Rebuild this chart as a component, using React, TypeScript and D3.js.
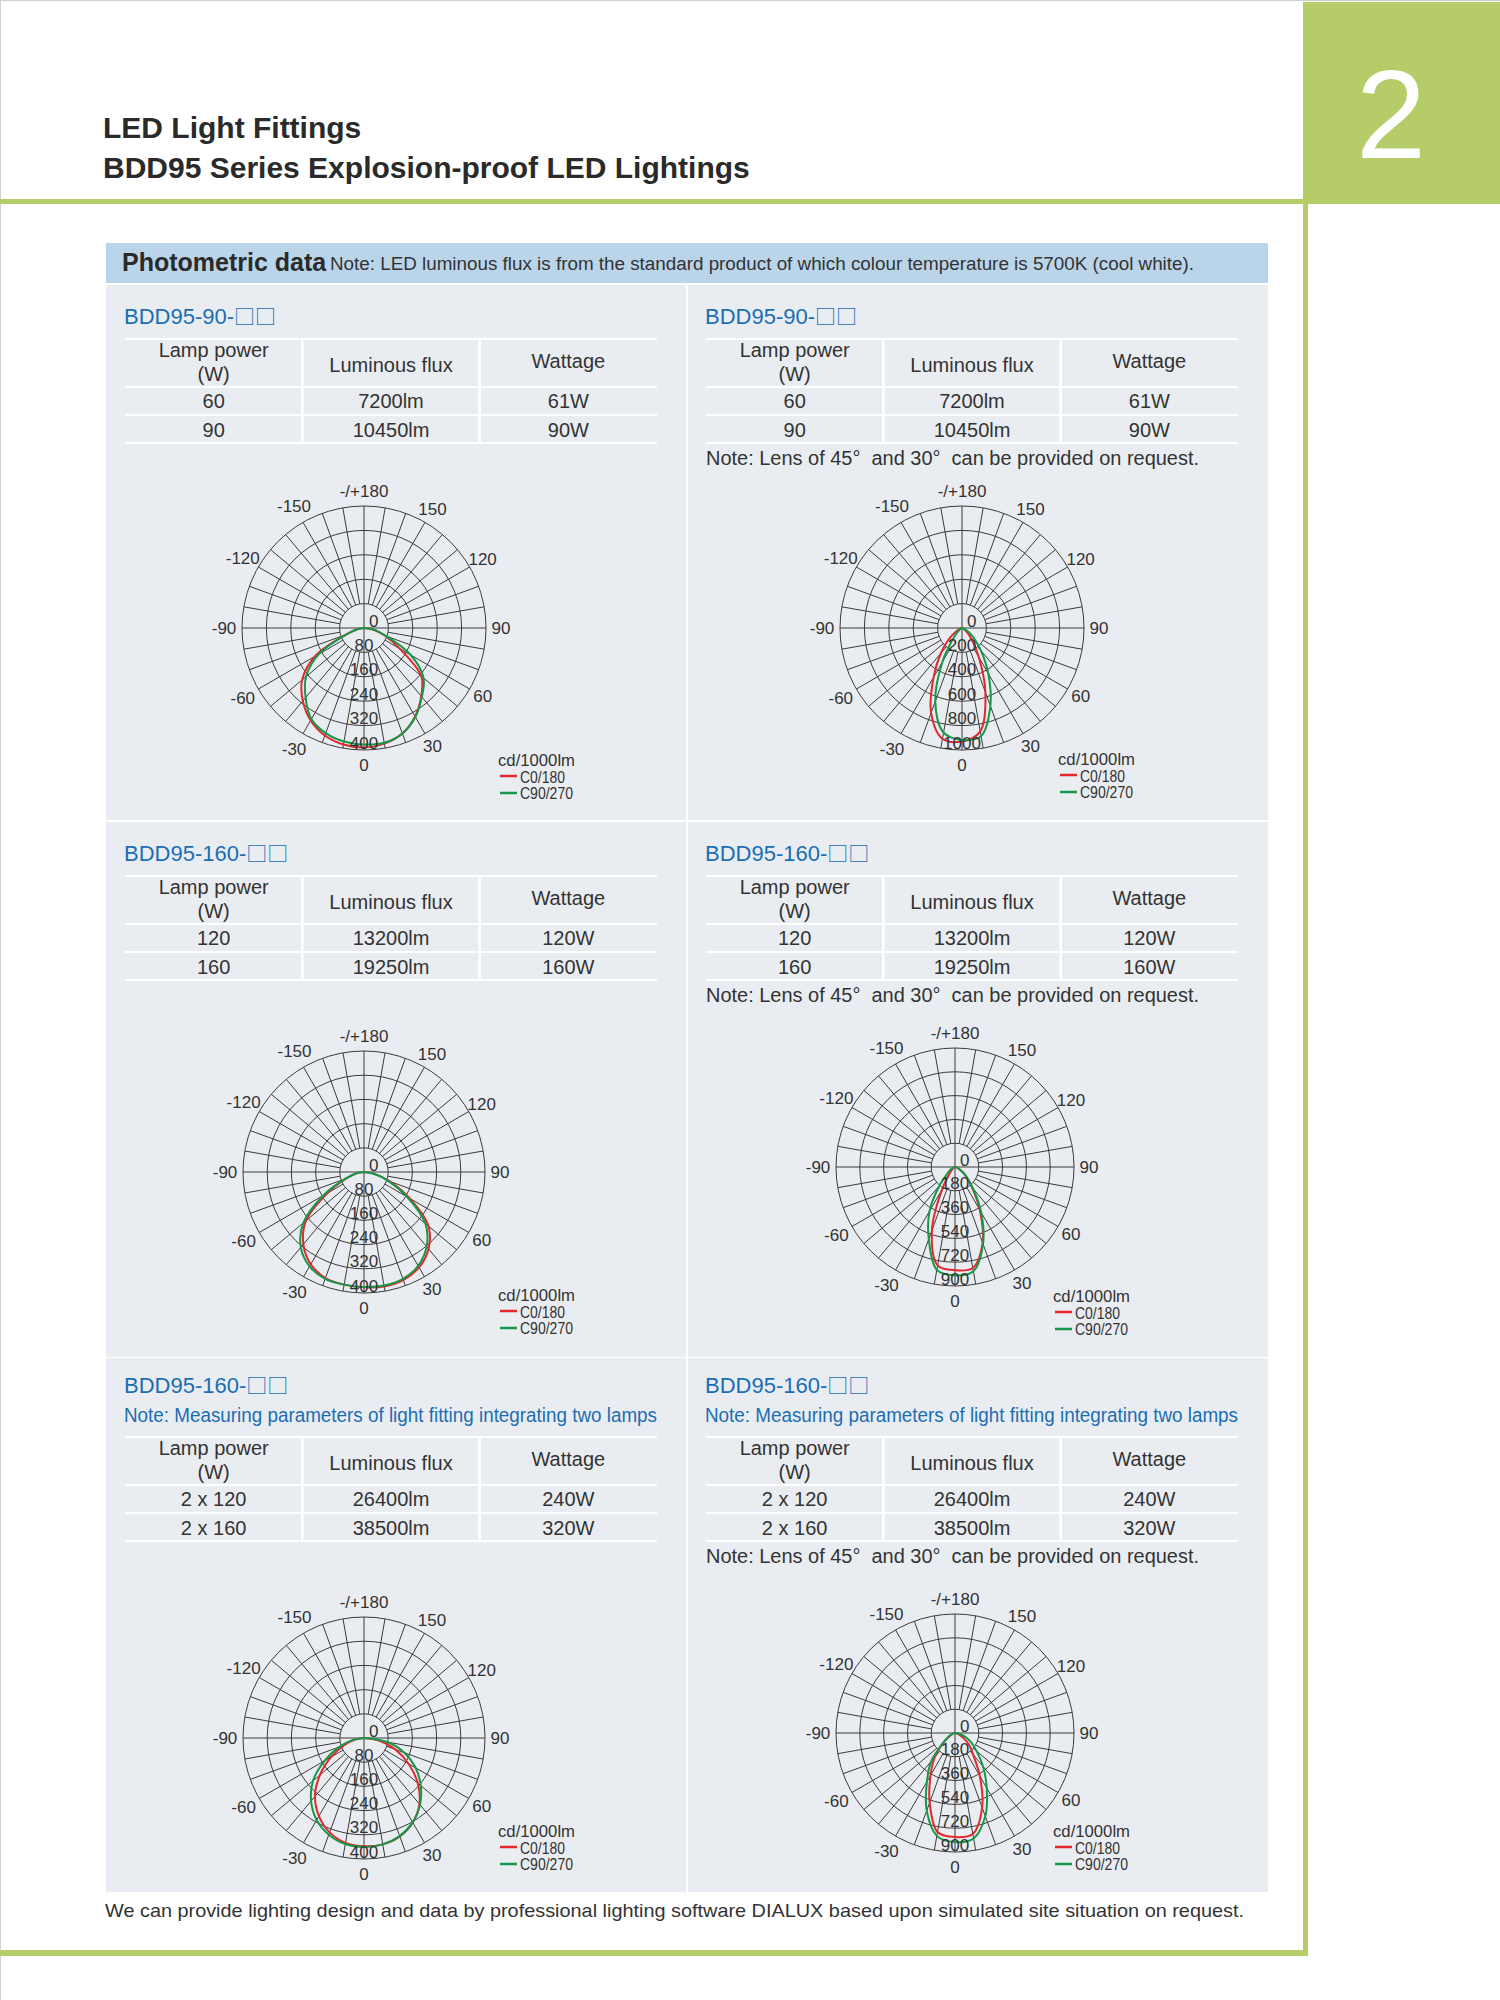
import * as React from 'react';
import * as d3 from 'd3';

// ---- data ----
const angles = [-90, -80, -70, -60, -50, -40, -30, -20, -10, 0, 10, 20, 30, 40, 50, 60, 70, 80, 90];

// BDD95-90 (wide)
const c0Wide90 = [0, 20, 62, 185, 265, 312, 350, 375, 388, 392, 385, 368, 335, 292, 245, 135, 72, 32, 0];
const c90Wide90 = [0, 20, 60, 170, 248, 298, 345, 367, 378, 382, 382, 368, 337, 295, 255, 177, 78, 35, 0];
// BDD95-90 (narrow)
const c0Narrow90 = [0, 0, 15, 50, 140, 270, 465, 740, 922, 930, 860, 560, 275, 125, 55, 20, 5, 0, 0];
const c90Narrow90 = [0, 0, 5, 15, 40, 110, 320, 640, 870, 918, 900, 680, 430, 240, 125, 60, 20, 5, 0];
// BDD95-160 (wide)
const c0Wide160 = [0, 25, 62, 140, 250, 312, 352, 373, 378, 381, 384, 380, 364, 332, 278, 175, 90, 35, 0];
const c90Wide160 = [0, 25, 65, 155, 262, 325, 360, 376, 378, 380, 381, 376, 358, 322, 265, 165, 85, 30, 0];
// BDD95-160 (narrow)
const c0Narrow160 = [0, 0, 5, 15, 30, 60, 195, 510, 755, 780, 775, 610, 375, 200, 110, 50, 20, 5, 0];
const c90Narrow160 = [0, 5, 15, 40, 70, 180, 385, 580, 790, 820, 800, 620, 395, 210, 110, 50, 20, 5, 0];
// BDD95-160 twin lamps (wide)
const c0Twin = [0, 30, 70, 125, 190, 252, 298, 332, 352, 358, 357, 346, 322, 285, 232, 170, 110, 50, 0];
const c90Twin = [0, 40, 88, 150, 220, 272, 313, 340, 356, 360, 357, 345, 322, 288, 245, 197, 142, 80, 0];
// BDD95-160 twin lamps (narrow)
const c0TwinNarrow = [0, 5, 15, 45, 120, 237, 370, 560, 760, 787, 775, 600, 375, 213, 140, 70, 30, 10, 0];
const c90TwinNarrow = [0, 10, 25, 60, 115, 280, 425, 625, 790, 825, 810, 670, 480, 330, 213, 142, 80, 30, 0];

const ticks400 = [80, 160, 240, 320, 400];
const ticks1000 = [200, 400, 600, 800, 1000];
const ticks900 = [180, 360, 540, 720, 900];

const angleTicks = [0, 30, 60, 90, 120, 150, 180, -150, -120, -90, -60, -30];
const angleLabels = ['0', '30', '60', '90', '120', '150', '-/+180', '-150', '-120', '-90', '-60', '-30'];

const headCols = ['Luminous flux', 'Wattage'];
const rows90 = [['60', '7200lm', '61W'], ['90', '10450lm', '90W']];
const rows160 = [['120', '13200lm', '120W'], ['160', '19250lm', '160W']];
const rowsTwin = [['2 x 120', '26400lm', '240W'], ['2 x 160', '38500lm', '320W']];

const FONT = '"Liberation Sans", Arial, Helvetica, sans-serif';
const RED = '#e5262d';
const GREEN = '#14994a';
const BLUE = '#1b6db4';
const TEXT = '#333333';
const GRID = '#3a3a3a';
const LIME = '#b5cc68';
const PANEL = '#e9edf1';

function Polar(props: any) {
  const { cx, cy, R, ticks, c0, c90, lx, ly } = props;
  const max = ticks[ticks.length - 1];
  const r = d3.scaleLinear().domain([0, max]).range([0, R]);
  const rad = (a: number) => (a * Math.PI) / 180;
  const line = d3.lineRadial<number>()
    .angle((_d, i) => Math.PI - rad(angles[i]))
    .radius((d) => r(d))
    .curve(d3.curveCatmullRom.alpha(0.5));
  const spokes = d3.range(0, 360, 10);
  const r1 = r(ticks[0]);

  return (
    <g>
      <g transform={`translate(${cx},${cy})`}>
        {ticks.map((t: number) => (
          <circle key={t} r={r(t)} fill="none" stroke={GRID} strokeWidth={1} />
        ))}
        {spokes.map((a) => {
          const r0 = a % 90 === 0 ? 0 : r1;
          return (
            <line key={a}
              x1={r0 * Math.sin(rad(a))} y1={r0 * Math.cos(rad(a))}
              x2={R * Math.sin(rad(a))} y2={R * Math.cos(rad(a))}
              stroke={GRID} strokeWidth={1} />
          );
        })}
        <path d={line(c0) || ''} fill="none" stroke={RED} strokeWidth={2} />
        <path d={line(c90) || ''} fill="none" stroke={GREEN} strokeWidth={2} />
        <text x={5} y={-1} fontSize={17} fill={TEXT}>0</text>
        {ticks.map((t: number) => (
          <text key={'l' + t} x={0} y={r(t) - 1.5} fontSize={17} fill={TEXT} textAnchor="middle">{t}</text>
        ))}
        {angleTicks.map((a, i) => {
          const rr = R + 15 + (a < 0 && a > -180 ? 3 : 0);
          return (
            <text key={'a' + a} x={rr * Math.sin(rad(a))} y={rr * Math.cos(rad(a))}
              fontSize={17} fill={TEXT} textAnchor="middle" dominantBaseline="central">
              {angleLabels[i]}
            </text>
          );
        })}
      </g>
      <text x={lx} y={ly} fontSize={17} fill={TEXT} textLength={77} lengthAdjust="spacingAndGlyphs">cd/1000lm</text>
      <line x1={lx + 2} x2={lx + 19} y1={ly + 10} y2={ly + 10} stroke={RED} strokeWidth={2.5} />
      <text x={lx + 22} y={ly + 17} fontSize={16} fill={TEXT} textLength={45} lengthAdjust="spacingAndGlyphs">C0/180</text>
      <line x1={lx + 2} x2={lx + 19} y1={ly + 27} y2={ly + 27} stroke={GREEN} strokeWidth={2.5} />
      <text x={lx + 22} y={ly + 33} fontSize={16} fill={TEXT} textLength={53} lengthAdjust="spacingAndGlyphs">C90/270</text>
    </g>
  );
}

function SpecTable(props: any) {
  const { x, y, rows } = props;
  const w = 532;
  const col = d3.scaleBand<number>().domain([0, 1, 2]).range([x, x + w]);
  const bw = col.bandwidth();
  const hLines = [0, 48, 76, 104];
  const rowBase = [69, 98];
  return (
    <g fontSize={20} fill={TEXT} textAnchor="middle">
      {hLines.map((d) => (
        <line key={d} x1={x} x2={x + w} y1={y + d} y2={y + d} stroke="#ffffff" strokeWidth={2} />
      ))}
      {[1, 2].map((c) => (
        <line key={c} x1={col(c)} x2={col(c)} y1={y} y2={y + 104} stroke="#ffffff" strokeWidth={2.5} />
      ))}
      <text x={(col(0) as number) + bw / 2} y={y + 18}>Lamp power</text>
      <text x={(col(0) as number) + bw / 2} y={y + 42}>(W)</text>
      <text x={(col(1) as number) + bw / 2} y={y + 33}>{headCols[0]}</text>
      <text x={(col(2) as number) + bw / 2} y={y + 29}>{headCols[1]}</text>
      {rows.map((row: string[], ri: number) =>
        row.map((v, ci) => (
          <text key={ri + '-' + ci} x={(col(ci) as number) + bw / 2} y={y + rowBase[ri]}>{v}</text>
        ))
      )}
    </g>
  );
}

function Title(props: any) {
  return (
    <text x={props.x} y={props.y} fontSize={22} fill={BLUE}>
      {props.label}
      <tspan fontFamily='"Noto Sans CJK SC", "DejaVu Sans", sans-serif' fontSize={21}>□□</tspan>
    </text>
  );
}

const lensNote = 'Note: Lens of 45°\u00a0 and 30°\u00a0 can be provided on request.';
const twinNote = 'Note: Measuring parameters of light fitting integrating two lamps';

export default function App() {
  return (
    <svg width={1500} height={2000} viewBox="0 0 1500 2000"
      style={{ position: 'absolute', left: 0, top: 0, background: '#ffffff' }}
      fontFamily={FONT}>
      <rect x={0} y={0} width={1500} height={2000} fill="#ffffff" />
      <line x1={0} x2={1500} y1={0.5} y2={0.5} stroke="#d0d0d0" />
      <line x1={0.5} x2={0.5} y1={0} y2={2000} stroke="#d0d0d0" />

      {/* page header */}
      <rect x={1303} y={2} width={197} height={202} fill={LIME} />
      <text x={1391} y={158} fontSize={126} fill="#ffffff" textAnchor="middle">2</text>
      <rect x={0} y={199} width={1303} height={5} fill={LIME} />
      <rect x={1303} y={199} width={5} height={1757} fill={LIME} />
      <rect x={0} y={1950} width={1308} height={6} fill={LIME} />
      <text x={103} y={138} fontSize={30} fontWeight="bold" fill="#2a2a2a">LED Light Fittings</text>
      <text x={103} y={178} fontSize={30} fontWeight="bold" fill="#2a2a2a">BDD95 Series Explosion-proof LED Lightings</text>

      {/* photometric band */}
      <rect x={106} y={243} width={1162} height={40} fill="#bad5ea" />
      <text x={122} y={271} fontSize={25} fontWeight="bold" fill="#2a2a2a">Photometric data</text>
      <text x={330} y={270} fontSize={18} fill={TEXT} textLength={864} lengthAdjust="spacingAndGlyphs">
        Note: LED luminous flux is from the standard product of which colour temperature is 5700K (cool white).
      </text>

      {/* panels */}
      {[285, 822, 1358].map((py, i) => (
        <g key={py}>
          <rect x={106} y={py} width={580} height={i === 2 ? 534 : 535} fill={PANEL} />
          <rect x={688} y={py} width={580} height={i === 2 ? 534 : 535} fill={PANEL} />
        </g>
      ))}

      {/* row 1 */}
      <Title x={124} y={324} label="BDD95-90-" />
      <Title x={705} y={324} label="BDD95-90-" />
      <SpecTable x={125} y={339} rows={rows90} />
      <SpecTable x={706} y={339} rows={rows90} />
      <text x={706} y={465} fontSize={19.5} fill={TEXT} textLength={493} lengthAdjust="spacingAndGlyphs">{lensNote}</text>
      <Polar cx={364} cy={628} R={122} ticks={ticks400} c0={c0Wide90} c90={c90Wide90} lx={498} ly={766} />
      <Polar cx={962} cy={628} R={122} ticks={ticks1000} c0={c0Narrow90} c90={c90Narrow90} lx={1058} ly={765} />

      {/* row 2 */}
      <Title x={124} y={861} label="BDD95-160-" />
      <Title x={705} y={861} label="BDD95-160-" />
      <SpecTable x={125} y={876} rows={rows160} />
      <SpecTable x={706} y={876} rows={rows160} />
      <text x={706} y={1002} fontSize={19.5} fill={TEXT} textLength={493} lengthAdjust="spacingAndGlyphs">{lensNote}</text>
      <Polar cx={364} cy={1172} R={121} ticks={ticks400} c0={c0Wide160} c90={c90Wide160} lx={498} ly={1301} />
      <Polar cx={955} cy={1167} R={119} ticks={ticks900} c0={c0Narrow160} c90={c90Narrow160} lx={1053} ly={1302} />

      {/* row 3 */}
      <Title x={124} y={1393} label="BDD95-160-" />
      <Title x={705} y={1393} label="BDD95-160-" />
      <text x={124} y={1422} fontSize={20} fill={BLUE} textLength={533} lengthAdjust="spacingAndGlyphs">{twinNote}</text>
      <text x={705} y={1422} fontSize={20} fill={BLUE} textLength={533} lengthAdjust="spacingAndGlyphs">{twinNote}</text>
      <SpecTable x={125} y={1437} rows={rowsTwin} />
      <SpecTable x={706} y={1437} rows={rowsTwin} />
      <text x={706} y={1563} fontSize={19.5} fill={TEXT} textLength={493} lengthAdjust="spacingAndGlyphs">{lensNote}</text>
      <Polar cx={364} cy={1738} R={121} ticks={ticks400} c0={c0Twin} c90={c90Twin} lx={498} ly={1837} />
      <Polar cx={955} cy={1733} R={119} ticks={ticks900} c0={c0TwinNarrow} c90={c90TwinNarrow} lx={1053} ly={1837} />

      {/* footer */}
      <text x={105} y={1917} fontSize={18.5} fill={TEXT} textLength={1139} lengthAdjust="spacingAndGlyphs">
        We can provide lighting design and data by professional lighting software DIALUX based upon simulated site situation on request.
      </text>
    </svg>
  );
}
